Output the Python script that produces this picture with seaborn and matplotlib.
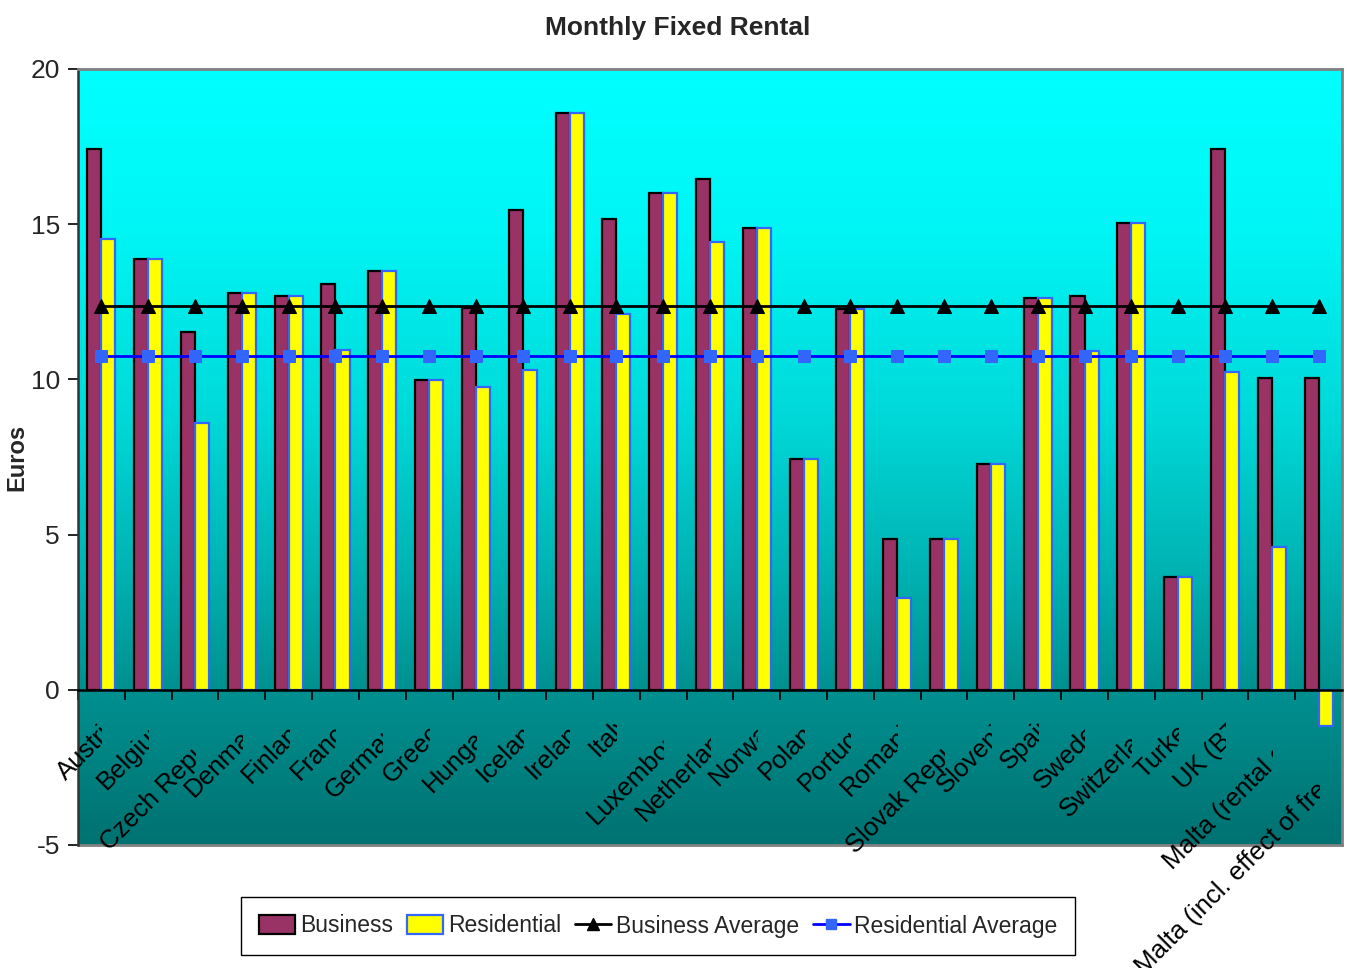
import matplotlib

matplotlib.use("Agg")

import matplotlib.pyplot as plt
import matplotlib.transforms as mtransforms
from matplotlib.colors import LinearSegmentedColormap
from matplotlib.font_manager import FontProperties
from matplotlib.lines import Line2D
from matplotlib.patches import Patch
import seaborn as sns

import numpy as np
import pandas as pd

COUNTRIES = [
    "Austria", "Belgium", "Czech Republic", "Denmark", "Finland", "France", "Germany",
    "Greece", "Hungary", "Iceland", "Ireland", "Italy", "Luxembourg", "Netherlands",
    "Norway", "Poland", "Portugal", "Romania", "Slovak Republic", "Slovenia", "Spain",
    "Sweden", "Switzerland", "Turkey", "UK (BT)", "Malta (rental only)",
    "Malta (incl. effect of free rental)",
]
BUSINESS = [
    17.42, 13.87, 11.52, 12.77, 12.68, 13.06, 13.48, 9.97, 12.29, 15.45, 18.58, 15.16, 16.0,
    16.45, 14.87, 7.42, 12.26, 4.87, 4.87, 7.29, 12.61, 12.68, 15.03, 3.65, 17.42, 10.06, 10.06,
]
RESIDENTIAL = [
    14.52, 13.87, 8.61, 12.77, 12.68, 10.94, 13.48, 9.97, 9.77, 10.29, 18.58, 12.1, 16.0,
    14.42, 14.87, 7.42, 12.26, 2.97, 4.87, 7.29, 12.61, 10.9, 15.03, 3.65, 10.23, 4.61, -1.16,
]
BUSINESS_AVG = 12.35
RESIDENTIAL_AVG = 10.74

YTICKS = [-5, 0, 5, 10, 15, 20]

BUSINESS_COLOR = "#993366"
RESIDENTIAL_COLOR = "#FFFF00"
RESIDENTIAL_EDGE = "#3366FF"

FONT = ["Liberation Sans", "DejaVu Sans"]
W, H = 1348, 968

sns.set_theme(style="white")
plt.rcParams["font.family"] = FONT

fig = plt.figure(figsize=(W / 100, H / 100), dpi=100)
ax = fig.add_axes([78 / W, 1 - 845 / H, 1264 / W, 776 / H])

# gradient plot area, cyan at the top to teal at the bottom
grad = LinearSegmentedColormap.from_list(
    "area",
    [(0.0, "#00FFFF"), (0.2, "#00F6F6"), (0.45, "#00D8D8"), (0.65, "#00B2B2"), (0.8, "#009090"), (1.0, "#007272")],
)
ax.imshow(np.linspace(0, 1, 256).reshape(-1, 1), extent=[0, 1, 0, 1], transform=ax.transAxes,
          aspect="auto", cmap=grad, zorder=0, interpolation="bilinear")

n = len(COUNTRIES)
data = pd.DataFrame({
    "country": COUNTRIES * 2,
    "series": ["Business"] * n + ["Residential"] * n,
    "value": BUSINESS + RESIDENTIAL,
})
sns.barplot(data=data, x="country", y="value", hue="series",
            palette={"Business": BUSINESS_COLOR, "Residential": RESIDENTIAL_COLOR},
            saturation=1, width=0.6, gap=0, legend=False, ax=ax, zorder=2)
for bar in ax.containers[0]:
    bar.set_edgecolor("black")
    bar.set_linewidth(1.6)
for bar in ax.containers[1]:
    bar.set_edgecolor(RESIDENTIAL_EDGE)
    bar.set_linewidth(1.6)

xs = np.arange(n)
sns.lineplot(x=xs, y=np.full(n, BUSINESS_AVG), color="black", linewidth=2, marker="^",
             markersize=10, markeredgecolor="black", ax=ax, zorder=3)
sns.lineplot(x=xs, y=np.full(n, RESIDENTIAL_AVG), color="#0000FF", linewidth=2, marker="s",
             markersize=8, markerfacecolor=RESIDENTIAL_EDGE, markeredgecolor=RESIDENTIAL_EDGE,
             ax=ax, zorder=3)

ax.set_xlim(-0.5, n - 0.5)
ax.set_ylim(-5, 20)
ax.set_yticks(YTICKS)
ax.set_yticklabels([str(t) for t in YTICKS])
ax.set_xticks(np.arange(-0.5, n, 1))
ax.set_xticklabels([])
ax.set_xlabel("")
ax.set_ylabel("Euros", fontsize=17, fontweight="bold")
ax.yaxis.set_label_coords(-0.039, 0.5)

ax.tick_params(axis="y", left=True, direction="out", length=7, width=1.2, color="black",
               labelsize=19, pad=6)
ax.tick_params(axis="x", bottom=True, direction="out", length=7, width=1.2, color="black",
               labelbottom=False)

ax.spines["bottom"].set_position(("data", 0))
ax.spines["bottom"].set_color("black")
ax.spines["bottom"].set_linewidth(1.8)
ax.spines["left"].set_color("#333333")
ax.spines["left"].set_linewidth(1.8)
for side in ("top", "right"):
    ax.spines[side].set_color("#808080")
    ax.spines[side].set_linewidth(2)
for sp in ax.spines.values():
    sp.set_zorder(4)
ax.axhline(-5, color="#808080", linewidth=2, clip_on=False, zorder=4)

# category labels: rotated, end clipped at the category centre like the original
renderer = fig.canvas.get_renderer()
label_prop = FontProperties(family=FONT, size=18.5)
for i, name in enumerate(COUNTRIES):
    width, _, _ = renderer.get_text_width_height_descent(name, label_prop, ismath=False)
    shift = max(0.2 * width - 8, 0)
    trans = mtransforms.offset_copy(ax.transData, fig=fig, x=shift, y=-21, units="dots")
    txt = ax.text(i, 0, name, rotation=45, rotation_mode="anchor", ha="right", va="top",
                  fontproperties=label_prop, color="black", transform=trans, zorder=5)
    clip = mtransforms.TransformedBbox(mtransforms.Bbox([[-100, -100], [i + 0.02, 100]]), ax.transData)
    txt.set_clip_box(clip)
    txt.set_clip_on(True)

fig.text(678 / W, 1 - 28 / H, "Monthly Fixed Rental", ha="center", va="center",
         fontsize=19, fontweight="bold")

handles = [
    Patch(facecolor=BUSINESS_COLOR, edgecolor="black", linewidth=1.6),
    Patch(facecolor=RESIDENTIAL_COLOR, edgecolor=RESIDENTIAL_EDGE, linewidth=1.6),
    Line2D([], [], color="black", linewidth=2, marker="^", markersize=8),
    Line2D([], [], color="#0000FF", linewidth=2, marker="s", markersize=7,
           markerfacecolor=RESIDENTIAL_EDGE, markeredgecolor=RESIDENTIAL_EDGE),
]
labels = ["Business", "Residential", "Business Average", "Residential Average"]
leg = fig.legend(handles, labels, loc="center", bbox_to_anchor=(658 / W, 1 - 926 / H), ncol=4,
                 frameon=True, fancybox=False, edgecolor="black", framealpha=1, fontsize=16.5,
                 handlelength=1.6, handleheight=0.9, handletextpad=0.2, columnspacing=0.6,
                 borderpad=0.75, borderaxespad=0)
leg.get_frame().set_linewidth(1.0)

fig.savefig("out.png", dpi=100, facecolor="white")
